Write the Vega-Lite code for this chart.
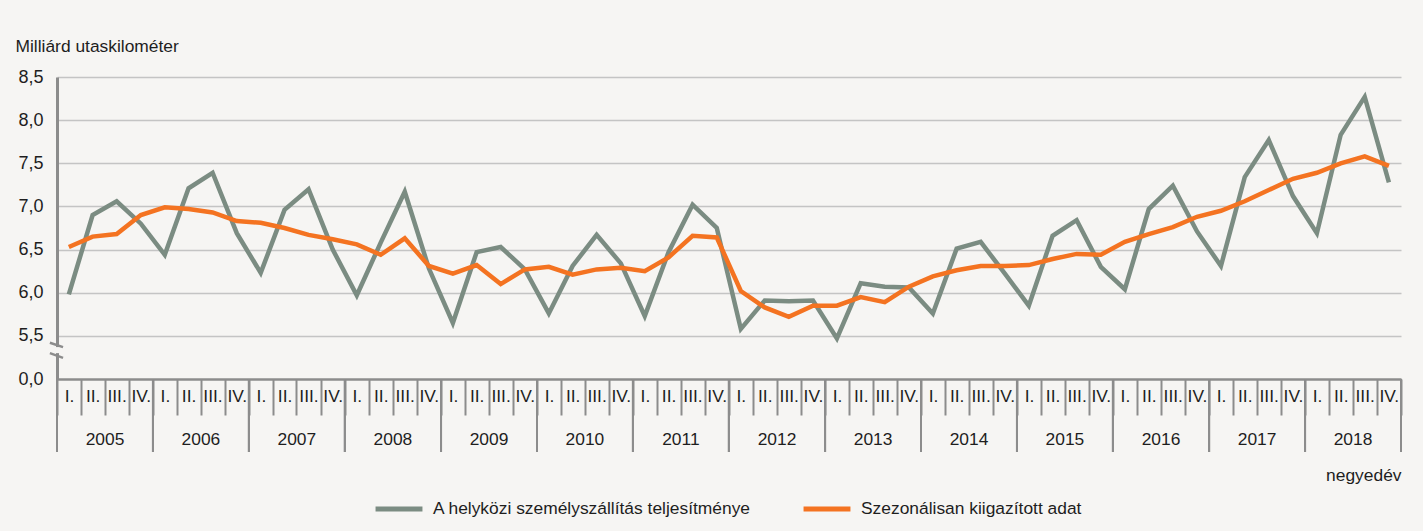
{
  "$schema": "https://vega.github.io/schema/vega-lite/v6.json",
  "width": 1344,
  "height": 302,
  "autosize": {"type": "none"},
  "padding": {"left": 57, "top": 77, "right": 22, "bottom": 152},
  "background": "#f6f5f3",
  "config": {"view": {"stroke": null}, "font": "Liberation Sans"},
  "datasets": {
    "quarters": [
      {"date": "2005-01-01", "A": 5.98, "S": 6.53},
      {"date": "2005-04-01", "A": 6.90, "S": 6.65},
      {"date": "2005-07-01", "A": 7.06, "S": 6.68},
      {"date": "2005-10-01", "A": 6.80, "S": 6.90},
      {"date": "2006-01-01", "A": 6.44, "S": 6.99},
      {"date": "2006-04-01", "A": 7.21, "S": 6.97},
      {"date": "2006-07-01", "A": 7.39, "S": 6.93},
      {"date": "2006-10-01", "A": 6.69, "S": 6.83},
      {"date": "2007-01-01", "A": 6.23, "S": 6.81},
      {"date": "2007-04-01", "A": 6.96, "S": 6.75},
      {"date": "2007-07-01", "A": 7.20, "S": 6.67},
      {"date": "2007-10-01", "A": 6.50, "S": 6.62},
      {"date": "2008-01-01", "A": 5.97, "S": 6.56},
      {"date": "2008-04-01", "A": 6.58, "S": 6.44},
      {"date": "2008-07-01", "A": 7.17, "S": 6.63},
      {"date": "2008-10-01", "A": 6.28, "S": 6.31},
      {"date": "2009-01-01", "A": 5.65, "S": 6.22},
      {"date": "2009-04-01", "A": 6.47, "S": 6.32},
      {"date": "2009-07-01", "A": 6.53, "S": 6.10},
      {"date": "2009-10-01", "A": 6.27, "S": 6.27},
      {"date": "2010-01-01", "A": 5.76, "S": 6.30},
      {"date": "2010-04-01", "A": 6.31, "S": 6.21},
      {"date": "2010-07-01", "A": 6.67, "S": 6.27},
      {"date": "2010-10-01", "A": 6.34, "S": 6.29},
      {"date": "2011-01-01", "A": 5.73, "S": 6.25},
      {"date": "2011-04-01", "A": 6.47, "S": 6.41},
      {"date": "2011-07-01", "A": 7.02, "S": 6.66},
      {"date": "2011-10-01", "A": 6.75, "S": 6.64},
      {"date": "2012-01-01", "A": 5.58, "S": 6.02},
      {"date": "2012-04-01", "A": 5.91, "S": 5.83},
      {"date": "2012-07-01", "A": 5.90, "S": 5.72},
      {"date": "2012-10-01", "A": 5.91, "S": 5.85},
      {"date": "2013-01-01", "A": 5.47, "S": 5.85},
      {"date": "2013-04-01", "A": 6.11, "S": 5.95},
      {"date": "2013-07-01", "A": 6.07, "S": 5.89},
      {"date": "2013-10-01", "A": 6.06, "S": 6.07},
      {"date": "2014-01-01", "A": 5.76, "S": 6.19},
      {"date": "2014-04-01", "A": 6.51, "S": 6.26},
      {"date": "2014-07-01", "A": 6.59, "S": 6.31},
      {"date": "2014-10-01", "A": 6.22, "S": 6.31},
      {"date": "2015-01-01", "A": 5.85, "S": 6.32},
      {"date": "2015-04-01", "A": 6.66, "S": 6.39},
      {"date": "2015-07-01", "A": 6.84, "S": 6.45},
      {"date": "2015-10-01", "A": 6.30, "S": 6.44},
      {"date": "2016-01-01", "A": 6.04, "S": 6.59},
      {"date": "2016-04-01", "A": 6.97, "S": 6.68},
      {"date": "2016-07-01", "A": 7.24, "S": 6.76},
      {"date": "2016-10-01", "A": 6.71, "S": 6.88},
      {"date": "2017-01-01", "A": 6.31, "S": 6.95},
      {"date": "2017-04-01", "A": 7.34, "S": 7.06},
      {"date": "2017-07-01", "A": 7.77, "S": 7.19},
      {"date": "2017-10-01", "A": 7.12, "S": 7.32},
      {"date": "2018-01-01", "A": 6.69, "S": 7.39},
      {"date": "2018-04-01", "A": 7.83, "S": 7.50},
      {"date": "2018-07-01", "A": 8.27, "S": 7.58},
      {"date": "2018-10-01", "A": 7.28, "S": 7.47}
    ],
    "years": [
      {"year": "2005"}, {"year": "2006"}, {"year": "2007"}, {"year": "2008"}, {"year": "2009"},
      {"year": "2010"}, {"year": "2011"}, {"year": "2012"}, {"year": "2013"}, {"year": "2014"},
      {"year": "2015"}, {"year": "2016"}, {"year": "2017"}, {"year": "2018"}
    ]
  },
  "layer": [
    {
      "data": {"name": "quarters"},
      "transform": [{"fold": ["A", "S"], "as": ["series", "value"]}],
      "mark": {"type": "line", "strokeWidth": 4.5},
      "encoding": {
        "x": {
          "field": "date", "type": "temporal", "timeUnit": "utcyearquarter", "bandPosition": 0.5,
          "scale": {"type": "utc", "nice": false,
                    "domain": [{"year": 2005, "month": 1, "date": 1, "utc": true}, {"year": 2019, "month": 1, "date": 1, "utc": true}]},
          "axis": {
            "orient": "bottom", "grid": false,
            "tickCount": {"interval": "month", "step": 3},
            "labelExpr": "datum.value >= utc(2019, 0, 1) ? '' : ['I.', 'II.', 'III.', 'IV.'][floor(utcmonth(datum.value) / 3)]",
            "labelAlign": "center", "labelOffset": 12, "labelFlush": false, "labelOverlap": false,
            "tickSize": 36, "labelPadding": -28, "labelAngle": 0, "labelBaseline": "top",
            "domainColor": "#8c8c8c", "domainWidth": 2.5, "tickColor": "#8c8c8c", "tickWidth": 2,
            "labelFontSize": 17.4, "labelColor": "#1e1e1e",
            "title": "negyedév", "titleX": 1344, "titleY": 101, "titleAlign": "right", "titleAnchor": "end",
            "titleBaseline": "alphabetic", "titleFontSize": 17.4, "titleFontWeight": "normal", "titleColor": "#1e1e1e"
          }
        },
        "y": {
          "field": "value", "type": "quantitative",
          "scale": {"domain": [5, 8.5], "zero": false, "nice": false},
          "axis": {
            "values": [5, 5.5, 6, 6.5, 7, 7.5, 8, 8.5],
            "labelExpr": "datum.value == 5 ? '0,0' : replace(format(datum.value, '.1f'), '.', ',')",
            "ticks": false, "domainColor": "#8c8c8c", "domainWidth": 3,
            "gridColor": {"condition": {"test": "datum.value == 5", "value": "transparent"}, "value": "#c4c4c4"},
            "gridWidth": 1.5,
            "labelFontSize": 18, "labelPadding": 14, "labelColor": "#1e1e1e",
            "title": "Milliárd utaskilométer", "titleAngle": 0, "titleAlign": "left", "titleBaseline": "alphabetic",
            "titleX": -42, "titleY": -26, "titleFontSize": 17.4, "titleFontWeight": "normal", "titleColor": "#1e1e1e"
          }
        },
        "color": {
          "field": "series", "type": "nominal",
          "scale": {"domain": ["A", "S"], "range": ["#7b8c82", "#f47321"]},
          "legend": {
            "orient": "none", "legendX": 316, "legendY": 406, "direction": "horizontal", "title": null,
            "labelExpr": "datum.value == 'A' ? 'A helyközi személyszállítás teljesítménye' : 'Szezonálisan kiigazított adat'",
            "symbolType": "stroke", "symbolStrokeWidth": 5, "symbolSize": 2200,
            "labelFontSize": 17.4, "labelColor": "#1e1e1e", "labelLimit": 500, "columnPadding": 42, "labelOffset": 8
          }
        }
      }
    },
    {
      "data": {"name": "years"},
      "mark": {"type": "rule", "stroke": "#8c8c8c", "strokeWidth": 2},
      "encoding": {
        "x": {"field": "year", "type": "temporal", "timeUnit": "utcyear", "bandPosition": 0},
        "y": {"datum": 5, "type": "quantitative"},
        "y2": {"datum": 4.154}
      }
    },
    {
      "data": {"name": "years"},
      "mark": {"type": "rule", "stroke": "#8c8c8c", "strokeWidth": 2},
      "encoding": {
        "x": {"field": "year", "type": "temporal", "timeUnit": "utcyear", "bandPosition": 1},
        "y": {"datum": 5, "type": "quantitative"},
        "y2": {"datum": 4.154}
      }
    },
    {
      "data": {"name": "years"},
      "mark": {"type": "text", "fontSize": 17.4, "color": "#1e1e1e", "baseline": "alphabetic", "align": "center"},
      "encoding": {
        "x": {"field": "year", "type": "temporal", "timeUnit": "utcyear", "bandPosition": 0.5},
        "y": {"datum": 4.235, "type": "quantitative"},
        "text": {"field": "year", "type": "temporal", "timeUnit": "utcyear"}
      }
    },
    {
      "data": {"values": [{"date": "2005-01-01", "hi": 5.37, "lo": 5.30}]},
      "mark": {"type": "rule", "stroke": "#f6f5f3", "strokeWidth": 7},
      "encoding": {
        "x": {"field": "date", "type": "temporal"},
        "y": {"field": "hi", "type": "quantitative"},
        "y2": {"field": "lo"}
      }
    },
    {
      "data": {"values": [
        {"from": "2004-12-05", "to": "2005-01-24", "hi": 5.42, "lo": 5.37},
        {"from": "2004-12-05", "to": "2005-01-24", "hi": 5.30, "lo": 5.245}
      ]},
      "mark": {"type": "rule", "stroke": "#8c8c8c", "strokeWidth": 2.5},
      "encoding": {
        "x": {"field": "from", "type": "temporal"},
        "x2": {"field": "to"},
        "y": {"field": "hi", "type": "quantitative"},
        "y2": {"field": "lo"}
      }
    }
  ]
}
